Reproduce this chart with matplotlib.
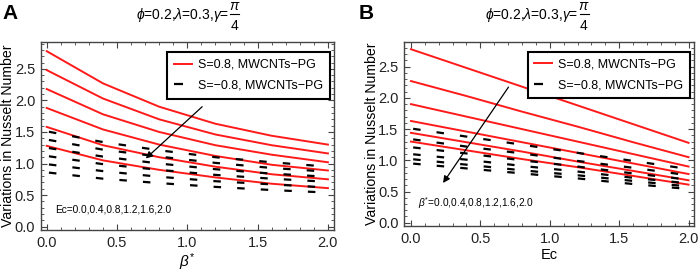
import numpy as np
import matplotlib
matplotlib.use('Agg')
import matplotlib.pyplot as plt
from matplotlib.ticker import MultipleLocator, FormatStrFormatter
from matplotlib.lines import Line2D

plt.rcParams['font.family'] = ['Liberation Sans', 'DejaVu Sans']
plt.rcParams['mathtext.fontset'] = 'custom'
plt.rcParams['mathtext.rm'] = 'Liberation Sans'
plt.rcParams['mathtext.it'] = 'Liberation Sans:italic'
plt.rcParams['mathtext.bf'] = 'Liberation Sans:bold'
plt.rcParams['lines.scale_dashes'] = False

# sample points on both axes
beta = [0.0, 0.4, 0.8, 1.2, 1.6, 2.0]
ec = [0.0, 0.4, 0.8, 1.2, 1.6, 2.0]

# Nusselt number, rows = beta*, columns = Ec  (S=0.8)
nu_pos = [
    [2.78, 2.48, 2.18, 1.88, 1.58, 1.28],
    [2.27, 2.03, 1.78, 1.54, 1.29, 1.05],
    [1.90, 1.70, 1.50, 1.30, 1.10, 0.90],
    [1.63, 1.46, 1.29, 1.12, 0.95, 0.78],
    [1.44, 1.29, 1.14, 0.98, 0.83, 0.68],
    [1.30, 1.16, 1.02, 0.89, 0.75, 0.61],
]
# S=-0.8
nu_neg = [
    [1.51, 1.38, 1.25, 1.12, 0.99, 0.86],
    [1.34, 1.22, 1.11, 0.99, 0.88, 0.76],
    [1.21, 1.11, 1.00, 0.90, 0.79, 0.69],
    [1.10, 1.01, 0.91, 0.82, 0.72, 0.63],
    [1.02, 0.93, 0.84, 0.76, 0.67, 0.58],
    [0.95, 0.87, 0.79, 0.71, 0.62, 0.54],
]

lab_pos = 'S=0.8, MWCNTs\u2212PG'
lab_neg = 'S=\u22120.8, MWCNTs\u2212PG'
title_main = r'$\phi$=0.2,$\lambda$=0.3,$\gamma$='

RED = '#ff1a1a'
FRAME = '#444444'
# dash pattern in points: (offset, (on, off))
DASH = (15.4, (5.4, 11.6))

W, H = 699, 271
fig = plt.figure(figsize=(W / 100, H / 100), dpi=100)
axA = fig.add_axes([0.0582, 0.1513, 0.4196, 0.6948])
axB = fig.add_axes([0.578, 0.166, 0.415, 0.680])

P = np.array(nu_pos)
N = np.array(nu_neg)


def style(ax, xlim, ylim, label_x):
    ax.set_xlim(xlim)
    ax.set_ylim(ylim)
    ax.set_xticks([0.0, 0.5, 1.0, 1.5, 2.0])
    ax.set_yticks([0.0, 0.5, 1.0, 1.5, 2.0, 2.5])
    ax.xaxis.set_minor_locator(MultipleLocator(0.1))
    ax.yaxis.set_minor_locator(MultipleLocator(0.1))
    ax.tick_params(which='both', direction='in', top=True, right=True,
                   color=FRAME, labelsize=10.5, labelcolor='#222222', pad=4)
    ax.tick_params(which='major', length=4, width=0.8)
    ax.tick_params(which='minor', length=2, width=0.6)
    ax.xaxis.set_major_formatter(FormatStrFormatter('%.1f'))
    ax.yaxis.set_major_formatter(FormatStrFormatter('%.1f'))
    for s in ax.spines.values():
        s.set_color(FRAME)
        s.set_linewidth(1.0)
    ax.set_ylabel('Variations in Nusselt Number', fontsize=10.2)
    ax.yaxis.set_label_coords(label_x, 0.5)


def title(x_eq, x_frac):
    # "phi=..,gamma=" then pi over 4 stacked
    fig.text(x_eq / W, 1 - 18.5 / H, title_main, fontsize=10,
             ha='right', va='baseline')
    fig.text(x_frac / W, 1 - 6.5 / H, r'$\pi$', fontsize=10,
             ha='center', va='center')
    fig.text(x_frac / W, 1 - 26.5 / H, '4', fontsize=10,
             ha='center', va='center')
    fig.add_artist(Line2D([(x_frac - 4.5) / W, (x_frac + 4.5) / W],
                          [1 - 14 / H, 1 - 14 / H],
                          color='black', lw=0.8))


# ---- panel A: curves vs beta*, one per Ec
for j in range(len(ec)):
    axA.plot(beta, P[:, j], color=RED, lw=1.4,
             label=lab_pos if j == 0 else None)
for j in range(len(ec)):
    axA.plot(beta, N[:, j], color='black', lw=1.6, linestyle=DASH,
             label=lab_neg if j == 0 else None)
style(axA, (-0.043, 2.043), (-0.053, 2.93), -0.088)
axA.set_xlabel(r'$\beta^{*}$', fontsize=11, labelpad=1)
axA.annotate('', xy=(0.69, 1.05), xytext=(1.12, 1.93),
             arrowprops=dict(arrowstyle='-|>', color='black', lw=0.9,
                             mutation_scale=10))
axA.text(0.06, 0.27, 'Ec=0.0,0.4,0.8,1.2,1.6,2.0', fontsize=7.3,
         va='center', ha='left')
title(229, 234.5)

# ---- panel B: lines vs Ec, one per beta*
for i in range(len(beta)):
    axB.plot(ec, P[i], color=RED, lw=1.4,
             label=lab_pos if i == 0 else None)
for i in range(len(beta)):
    axB.plot(ec, N[i], color='black', lw=1.6, linestyle=DASH,
             label=lab_neg if i == 0 else None)
style(axB, (-0.05, 2.04), (-0.053, 2.90), -0.086)
axB.set_xlabel('Ec', fontsize=10.5, labelpad=2)
axB.annotate('', xy=(0.22, 0.60), xytext=(0.714, 2.21),
             arrowprops=dict(arrowstyle='-|>', color='black', lw=0.9,
                             mutation_scale=10))
axB.text(0.05, 0.32, r'$\beta^{*}$=0.0,0.4,0.8,1.2,1.6,2.0', fontsize=7.3,
         va='center', ha='left')
title(578, 584)

for ax in (axA, axB):
    leg = ax.legend(loc='upper right', bbox_to_anchor=(0.986, 0.945),
                    borderaxespad=0, fontsize=9, handlelength=1.4,
                    handletextpad=0.5, labelspacing=0.7, borderpad=0.55,
                    fancybox=False, framealpha=1, edgecolor='black')
    leg.get_frame().set_linewidth(1.5)
    leg.get_lines()[1].set_linestyle((0, (6.5, 20)))

fig.text(0.004, 0.985, 'A', fontsize=15, fontweight='bold', va='top')
fig.text(0.513, 0.985, 'B', fontsize=15, fontweight='bold', va='top')

fig.savefig('out.png', dpi=100)
